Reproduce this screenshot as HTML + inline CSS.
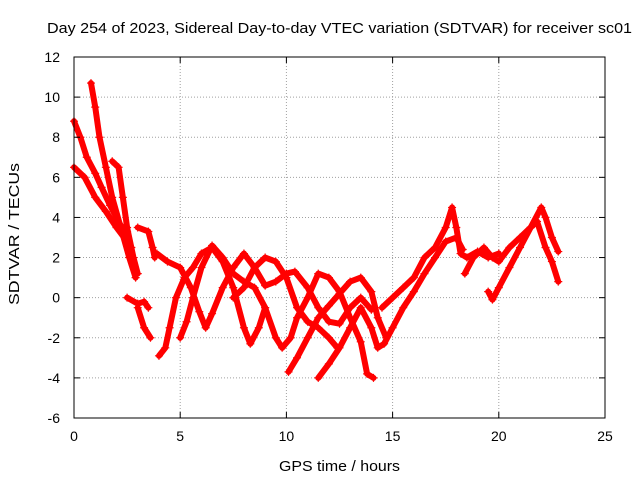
<!DOCTYPE html>
<html><head><meta charset="utf-8"><style>
body{margin:0;background:#fff}
svg text{font-family:"Liberation Sans",sans-serif;font-size:14px;fill:#000}
</style></head><body>
<svg id="chart" width="640" height="480">
<rect width="640" height="480" fill="#fff"/>
<text x="47" y="33" textLength="585" lengthAdjust="spacingAndGlyphs" style="font-size:15px">Day 254 of 2023, Sidereal Day-to-day VTEC variation (SDTVAR) for receiver sc01</text>
<text x="279" y="471" textLength="121" lengthAdjust="spacingAndGlyphs" style="font-size:15px">GPS time / hours</text>
<text transform="translate(19,305) rotate(-90)" textLength="142" lengthAdjust="spacingAndGlyphs" style="font-size:15px">SDTVAR / TECUs</text>
<g id="grid"></g><g id="marks"></g><g id="axes"></g>
</svg>
<script>
const xTicks=[0,5,10,15,20,25];
const yTicks=[-6,-4,-2,0,2,4,6,8,10,12];
const track1=[[0,6.5],[0.5,6],[1,5],[1.5,4.3],[2,3.5],[2.5,2.8],[2.7,2.5]];
const track2=[[0,8.8],[0.3,8],[0.6,7],[1,6.2],[1.3,5.5],[1.7,4.6],[2.2,3.6],[2.5,3.3]];
const track3=[[0.8,10.7],[1,9.5],[1.2,8],[1.5,6.5],[1.8,5],[2.2,3.5],[2.6,2],[2.9,1]];
const track4=[[1.8,6.8],[2.1,6.5],[2.3,5],[2.5,3.5],[2.8,2],[3,1.2]];
const track5=[[3,3.5],[3.5,3.3],[3.7,2.5],[3.8,2]];
const track6=[[2.5,0],[3,-0.3],[3.3,-0.2],[3.5,-0.5]];
const track7=[[3,-0.5],[3.3,-1.5],[3.6,-2]];
const track8=[[4,-2.9],[4.3,-2.5],[4.5,-1.5],[4.8,0],[5.2,1],[5.6,1.5],[6,2.2],[6.5,2.5],[7,1.8],[7.5,0.5],[8,-1.5],[8.3,-2.3],[8.7,-1.5],[9,-0.5]];
const track9=[[3.9,2.2],[4.4,1.8],[5,1.5],[5.5,0.5],[5.9,-0.7],[6.2,-1.5],[6.5,-0.8],[7,0.5],[7.5,1.5],[8,2.2],[8.5,1.5],[9,0.6],[9.5,0.8],[10,1.2],[10.4,1.3],[11,0.5],[11.5,-0.5],[12,-1.2],[12.5,-1.3],[13,-0.5],[13.5,0],[14,-0.6]];
const track10=[[5,-2],[5.3,-1.2],[5.6,0],[6,1.5],[6.5,2.6],[7,2],[7.5,1.2],[8,0.8],[8.5,0.5],[9,-0.5],[9.5,-2],[9.8,-2.5],[10.2,-2],[10.5,-1],[11,0],[11.5,1.2],[12,1],[12.5,0.3],[13,-1],[13.5,-2.2],[13.8,-3.8],[14.1,-4]];
const track11=[[7.5,0],[8,0.5],[8.5,1.5],[9,2],[9.5,1.8],[10,1],[10.5,-0.5],[11,-1.2],[11.5,-1.5],[12,-2],[12.4,-2.5]];
const track12=[[10.1,-3.7],[10.5,-3],[11,-2],[11.5,-1],[12,-0.4],[12.5,0.2],[13,0.8],[13.5,1],[14,0.3],[14.3,-1],[14.7,-2]];
const track13=[[11.5,-4],[12,-3.3],[12.5,-2.5],[13,-1.5],[13.5,-0.5],[14,-1.5],[14.3,-2.5],[14.6,-2.3],[15,-1.5],[15.5,-0.5],[16,0.3],[16.5,1.2],[17,2],[17.5,2.8],[18,3],[18.3,2.4]];
const track14=[[14.5,-0.5],[15,0],[15.5,0.5],[16,1],[16.5,2],[17,2.5],[17.5,3.5],[17.8,4.5],[18,3.5],[18.2,2.2],[18.5,2],[19,2.3],[19.5,2],[20,2.2]];
const track15=[[18.4,1.2],[18.8,2],[19.3,2.5],[19.7,2],[20,1.8],[20.5,2.5],[21,3],[21.5,3.5],[22,4.5],[22.2,4],[22.5,3],[22.8,2.3]];
const track16=[[19.5,0.3],[19.7,-0.1],[20,0.5],[20.5,1.5],[21,2.5],[21.5,3.5],[21.8,3.8],[22.2,2.5],[22.5,1.8],[22.8,0.8]];
const tracks=[track1,track2,track3,track4,track5,track6,track7,track8,track9,track10,track11,track12,track13,track14,track15,track16];

const X0=74,X1=605,Y0=418,Y1=57;
const xs=v=>X0+(v-0)/25*(X1-X0);
const ys=v=>Y0-(v+6)/18*(Y0-Y1);
const NS="http://www.w3.org/2000/svg";
function mk(tag,parent,attrs){const e=document.createElementNS(NS,tag);for(const k in attrs)e.setAttribute(k,attrs[k]);parent.appendChild(e);return e;}
const grid=document.getElementById('grid'),axes=document.getElementById('axes'),marks=document.getElementById('marks');
xTicks.forEach(t=>{const x=xs(t);
 if(t>0&&t<25){const g=mk('line',grid,{x1:x,x2:x,y1:Y0,y2:Y1,stroke:'#a0a0a0','stroke-dasharray':'1,2'});
 
 }
 mk('line',axes,{x1:x,x2:x,y1:Y0,y2:Y0-6,stroke:'#000'});mk('line',axes,{x1:x,x2:x,y1:Y1,y2:Y1+6,stroke:'#000'});
 const l=mk('text',axes,{x:x,y:Y0+23,'text-anchor':'middle'});l.textContent=t;
 
 });
yTicks.forEach(t=>{const y=ys(t);
 if(t>-6&&t<12){const g=mk('line',grid,{x1:X0,x2:X1,y1:y,y2:y,stroke:'#a0a0a0','stroke-dasharray':'1,2'});
 
 }
 mk('line',axes,{x1:X0,x2:X0+6,y1:y,y2:y,stroke:'#000'});mk('line',axes,{x1:X1,x2:X1-6,y1:y,y2:y,stroke:'#000'});
 const l=mk('text',axes,{x:X0-14,y:y+5,'text-anchor':'end'});l.textContent=t;
 
 });
const fr=mk('rect',axes,{x:X0,y:Y1,width:X1-X0,height:Y0-Y1,fill:'none',stroke:'#000'});


tracks.forEach(tr=>{
 const pl=mk('polyline',marks,{points:tr.map(p=>xs(p[0])+','+ys(p[1])).join(' '),fill:'none',stroke:'#ff0000','stroke-width':6,'stroke-linejoin':'round','stroke-linecap':'round'});
 
 
 tr.forEach(p=>{const x=xs(p[0]),y=ys(p[1]);
  const m=mk('path',marks,{d:`M${x-4},${y}H${x+4}M${x},${y-4}V${y+4}`,stroke:'#ff0000','stroke-width':1.2});
  
  });
});
</script>
</body></html>
